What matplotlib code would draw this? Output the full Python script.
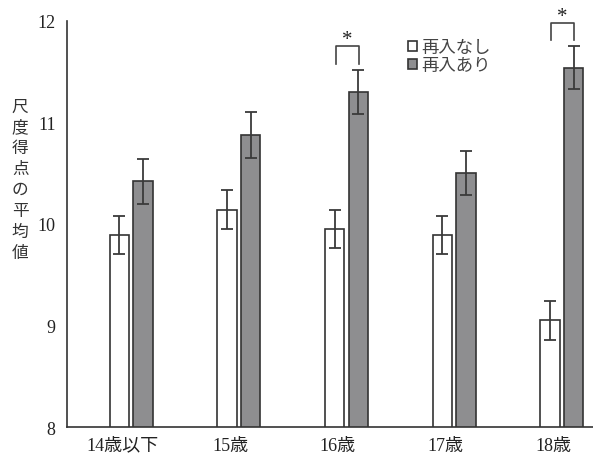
import matplotlib
matplotlib.use("Agg")
import matplotlib.pyplot as plt
import numpy as np

plt.rcParams['font.family'] = ['Liberation Serif', 'Noto Sans CJK JP']

# 年齢群ごとの尺度得点（平均値と標準誤差）
groups = ["14歳以下", "15歳", "16歳", "17歳", "18歳"]
no_reentry = [9.89, 10.14, 9.95, 9.89, 9.05]
no_reentry_err = [0.19, 0.19, 0.19, 0.19, 0.19]
reentry = [10.42, 10.88, 11.30, 10.50, 11.54]
reentry_err = [0.22, 0.225, 0.22, 0.215, 0.215]
series_names = ["再入なし", "再入あり"]
# 有意差のある群（ブラケットの高さ）
sig_groups = [2, 4]
sig_top = [11.75, 11.985]
sig_leg = [11.575, 11.81]

edge = "#333333"
gray = "#8e8e90"

fig = plt.figure(figsize=(5.93, 4.56), dpi=100)
ax = fig.add_axes([0.1125, 0.0614, 0.8875, 0.8904])

x = np.arange(len(groups))
w = 0.18
off = 0.11
ax.bar(x - off, no_reentry, w, color="white", edgecolor=edge, linewidth=1.2,
       label=series_names[0], zorder=2)
ax.bar(x + off, reentry, w, color=gray, edgecolor=edge, linewidth=1.2,
       label=series_names[1], zorder=2)
ax.errorbar(x - off, no_reentry, yerr=no_reentry_err, fmt="none", ecolor="#3a3a3a",
            elinewidth=1.3, capsize=4.5, capthick=1.3, zorder=3)
ax.errorbar(x + off, reentry, yerr=reentry_err, fmt="none", ecolor="#3a3a3a",
            elinewidth=1.3, capsize=4.5, capthick=1.3, zorder=3)

for g, top, leg in zip(sig_groups, sig_top, sig_leg):
    x0, x1 = g - off + 0.01, g + off + 0.005
    ax.plot([x0, x0, x1, x1], [leg, top, top, leg], color="#444444", lw=1.2,
            clip_on=False)
    ax.text((x0 + x1) / 2, top - 0.03, "*", ha="center", va="bottom", fontsize=15,
            color="#222222")

ax.set_ylim(8, 12)
ax.set_xlim(-0.6, 4.29)
ax.set_yticks([8, 9, 10, 11, 12])
ax.set_xticks(x - 0.08)
ax.set_xticklabels(groups)
ax.tick_params(length=0, labelsize=13, colors="#222222")
ax.tick_params(axis="y", pad=8)
ax.tick_params(axis="x", pad=7)
for s in ["top", "right"]:
    ax.spines[s].set_visible(False)
for s in ["left", "bottom"]:
    ax.spines[s].set_color(edge)
    ax.spines[s].set_linewidth(1.2)

fig.text(0.034, 0.605, "\n".join("尺度得点の平均値"), ha="center", va="center",
         fontsize=12, linespacing=1.3, color="#333333", family=['Noto Sans CJK JP'])

leg = ax.legend(loc="upper left", bbox_to_anchor=(0.635, 0.975), frameon=False,
                handlelength=0.5, handleheight=0.5, handletextpad=0.3,
                labelspacing=0.0, borderaxespad=0, prop={'family': ['Noto Sans CJK JP'], 'size': 12.5})
for t in leg.get_texts():
    t.set_color("#444444")

fig.savefig("out.png", dpi=100)
